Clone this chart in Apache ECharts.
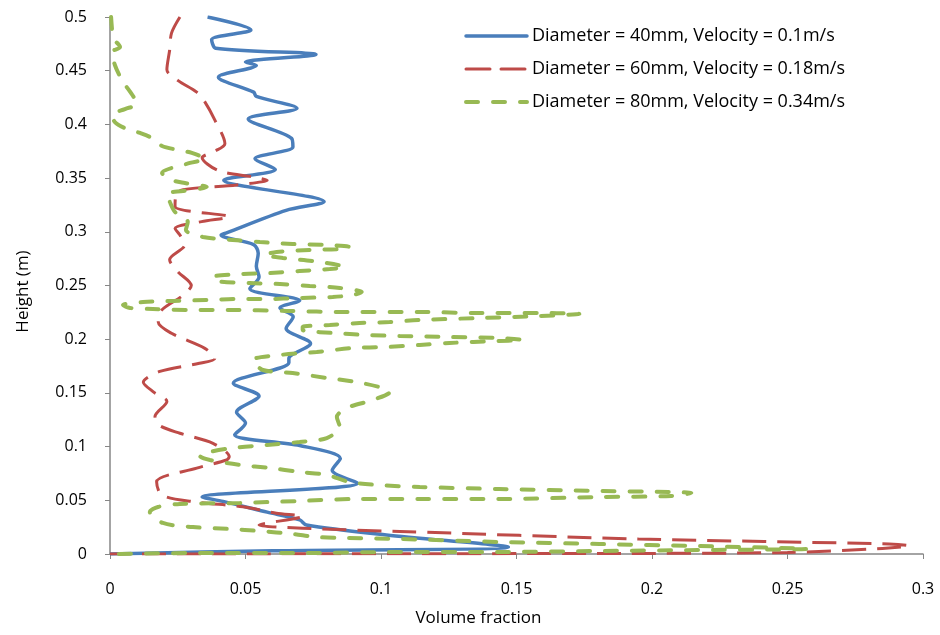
<!DOCTYPE html>
<html>
<head>
<meta charset="utf-8">
<script src="https://cdn.jsdelivr.net/npm/echarts@6/dist/echarts.min.js"></script>
<style>
  html, body { margin: 0; padding: 0; background: #fff; }
  #chart { width: 940px; height: 635px; }
</style>
</head>
<body>
<div id="chart"></div>
<script>
  // [volume fraction, height (m)] along each profile, top to bottom
  const seriesNames = [
    'Diameter = 40mm, Velocity = 0.1m/s',
    'Diameter = 60mm, Velocity = 0.18m/s',
    'Diameter = 80mm, Velocity = 0.34m/s'
  ]

  const profile40 = [
    [0.036,0.5],[0.052,0.488],[0.0375,0.479],[0.039,0.471],[0.076,0.465],[0.050,0.458],[0.054,0.455],
    [0.040,0.444],[0.053,0.430],[0.054,0.426],[0.069,0.415],[0.051,0.405],[0.067,0.387],[0.0675,0.379],
    [0.0535,0.368],[0.061,0.358],[0.042,0.348],[0.079,0.328],[0.065,0.320],[0.043,0.299],[0.041,0.297],
    [0.053,0.288],[0.0547,0.280],[0.054,0.268],[0.055,0.258],[0.0516,0.247],[0.070,0.236],[0.0627,0.229],
    [0.0676,0.221],[0.065,0.210],[0.074,0.196],[0.066,0.182],[0.066,0.178],[0.0455,0.159],[0.055,0.147],
    [0.0467,0.132],[0.050,0.122],[0.046,0.111],[0.070,0.101],[0.085,0.089],[0.082,0.078],[0.0915,0.066],
    [0.034,0.053],[0.0417,0.049],[0.058,0.039],[0.070,0.0317],[0.0725,0.027],[0.102,0.0177],[0.147,0.0065],
    [0.06,0.003],[0.0,0.0]
  ]

  const profile60 = [
    [0.0258,0.5],[0.0227,0.485],[0.022,0.469],[0.021,0.451],[0.025,0.441],[0.032,0.430],[0.035,0.421],
    [0.0387,0.404],[0.0424,0.382],[0.0387,0.375],[0.034,0.369],[0.040,0.357],[0.053,0.351],[0.058,0.348],
    [0.0467,0.3436],[0.0246,0.337],[0.024,0.3236],[0.044,0.314],[0.0338,0.3095],[0.024,0.303],[0.0258,0.297],
    [0.0276,0.288],[0.022,0.274],[0.025,0.263],[0.030,0.250],[0.027,0.241],[0.019,0.227],[0.0178,0.216],
    [0.0227,0.2055],[0.035,0.1915],[0.0387,0.182],[0.033,0.1776],[0.0184,0.170],[0.0123,0.160],[0.016,0.151],
    [0.021,0.142],[0.0166,0.128],[0.018,0.120],[0.0258,0.1124],[0.038,0.103],[0.044,0.0906],[0.043,0.0875],
    [0.032,0.080],[0.0172,0.0673],[0.019,0.055],[0.0307,0.0487],[0.049,0.044],[0.0614,0.038],[0.071,0.035],
    [0.055,0.027],[0.071,0.024],[0.107,0.021],[0.195,0.014],[0.2875,0.0093],[0.2948,0.0077],[0.285,0.0052],
    [0.25,0.0014],[0.18,0.0005],[0.0,0.0]
  ]

  const profile80 = [
    [0.0004,0.5],[0.0007,0.4898],[0.0011,0.4804],[0.0037,0.4721],[0.0007,0.4674],[0.0018,0.4553],
    [0.0044,0.4413],[0.0085,0.4264],[0.0100,0.4190],[0.0055,0.4143],[0.0007,0.4088],[0.0018,0.4022],
    [0.0055,0.3966],[0.0111,0.3920],[0.0155,0.3873],[0.0192,0.3799],[0.0251,0.3762],[0.0302,0.3734],
    [0.0350,0.3678],[0.0295,0.3641],[0.0192,0.3547],[0.0229,0.3482],[0.0276,0.3454],[0.0357,0.3417],
    [0.0269,0.3380],[0.0210,0.3352],[0.0221,0.3277],[0.0240,0.3184],[0.0287,0.3091],[0.0280,0.3017],
    [0.0343,0.2952],[0.0453,0.2924],[0.0553,0.2905],[0.0674,0.2886],[0.0800,0.2877],[0.0885,0.2858],
    [0.0848,0.2840],[0.0737,0.2831],[0.0615,0.2812],[0.0571,0.2784],[0.0638,0.2756],[0.0774,0.2719],
    [0.0866,0.2672],[0.0811,0.2654],[0.0700,0.2635],[0.0590,0.2616],[0.0490,0.2607],[0.0380,0.2579],
    [0.0387,0.2542],[0.0516,0.2523],[0.0627,0.2514],[0.0737,0.2495],[0.0848,0.2477],[0.0929,0.2439],
    [0.0896,0.2412],[0.0822,0.2393],[0.0700,0.2384],[0.0579,0.2374],[0.0468,0.2374],[0.0357,0.2365],
    [0.0232,0.2356],[0.0122,0.2346],[0.0048,0.2318],[0.0074,0.2291],[0.0158,0.2281],[0.0295,0.2272],
    [0.0442,0.2272],[0.0652,0.2263],[0.0873,0.2253],[0.1143,0.2253],[0.1364,0.2244],[0.1585,0.2244],
    [0.1732,0.2235],[0.1585,0.2216],[0.1364,0.2197],[0.1143,0.2179],[0.1032,0.2160],[0.0921,0.2151],
    [0.0811,0.2132],[0.0711,0.2114],[0.0711,0.2086],[0.0822,0.2058],[0.0947,0.2039],[0.1069,0.2030],
    [0.1253,0.2020],[0.1437,0.2011],[0.1522,0.1993],[0.1430,0.1983],[0.1253,0.1965],[0.1143,0.1946],
    [0.1021,0.1927],[0.0896,0.1918],[0.0763,0.1881],[0.0627,0.1853],[0.0527,0.1806],[0.0564,0.1713],
    [0.0674,0.1685],[0.0800,0.1639],[0.0910,0.1601],[0.1006,0.1546],[0.1032,0.1508],[0.0969,0.1434],
    [0.0873,0.1359],[0.0837,0.1276],[0.0848,0.1182],[0.0800,0.1080],[0.0700,0.1043],[0.0579,0.1015],
    [0.0453,0.0987],[0.0369,0.0950],[0.0332,0.0912],[0.0369,0.0875],[0.0479,0.0829],[0.0590,0.0801],
    [0.0700,0.0764],[0.0800,0.0736],[0.0885,0.0670],[0.0995,0.0642],[0.1143,0.0624],[0.1437,0.0605],
    [0.1806,0.0587],[0.2145,0.0568],[0.2071,0.0540],[0.1806,0.0531],[0.1437,0.0512],[0.1143,0.0512],
    [0.0910,0.0512],[0.0689,0.0493],[0.0479,0.0475],[0.0258,0.0466],[0.0177,0.0438],[0.0147,0.0391],
    [0.0195,0.0289],[0.0306,0.0251],[0.0442,0.0233],[0.0553,0.0214],[0.0674,0.0186],[0.0763,0.0158],
    [0.0873,0.0149],[0.1069,0.0140],[0.1437,0.0112],[0.1806,0.0093],[0.2174,0.0074],[0.2572,0.0047],
    [0.2174,0.0037],[0.1806,0.0028],[0.1437,0.0019],[0.1069,0.0019],[0.0700,0.0009],[0.0332,0.0009],
    [0.0004,0.0]
  ]

  const font = 'Open Sans'
  const axisColor = '#868686'
  const colors = ['#4a7ebb', '#be4b48', '#98b954']
  const widths = [3.5, 3, 4]
  const dashes = ['solid', [24, 11], [12, 15]]

  const myChart = echarts.init(document.getElementById('chart'))
  myChart.setOption({
    animation: false,
    textStyle: { fontFamily: font },
    grid: { left: 110, right: 17, top: 17, bottom: 81 },
    legend: {
      orient: 'vertical',
      left: 459,
      top: 22,
      itemWidth: 61,
      itemHeight: 14,
      itemGap: 15,
      itemStyle: { opacity: 0 },
      data: seriesNames.map((n, i) => ({
        name: n,
        lineStyle: { width: widths[i], type: dashes[i], cap: 'round' }
      })),
      textStyle: { fontSize: 18, color: '#000', fontFamily: font }
    },
    xAxis: {
      type: 'value',
      min: 0,
      max: 0.3,
      interval: 0.05,
      name: 'Volume fraction',
      nameLocation: 'middle',
      nameGap: 56,
      nameTextStyle: { fontSize: 17, color: '#000', padding: [0, 76, 0, 0] },
      axisLine: { show: true, lineStyle: { color: axisColor, width: 1.5 } },
      axisTick: { show: true, length: 5, lineStyle: { color: axisColor } },
      splitLine: { show: false },
      axisLabel: { fontSize: 16, color: '#000', margin: 27 }
    },
    yAxis: {
      type: 'value',
      min: 0,
      max: 0.5,
      interval: 0.05,
      name: 'Height (m)',
      nameLocation: 'middle',
      nameRotate: 90,
      nameGap: 78,
      nameTextStyle: { fontSize: 17, color: '#000', padding: [0, 12, 0, 0] },
      axisLine: { show: true, lineStyle: { color: axisColor, width: 1.5 } },
      axisTick: { show: true, length: 5, lineStyle: { color: axisColor } },
      splitLine: { show: false },
      axisLabel: { fontSize: 16, color: '#000', margin: 23 }
    },
    series: [0, 1, 2].map(i => ({
      name: seriesNames[i],
      type: 'line',
      data: [profile40, profile60, profile80][i],
      symbol: 'none',
      smooth: 0.3,
      itemStyle: { color: colors[i] },
      lineStyle: { color: colors[i], width: widths[i], type: dashes[i], cap: i === 2 ? 'round' : 'butt' }
    }))
  })
</script>
</body>
</html>
